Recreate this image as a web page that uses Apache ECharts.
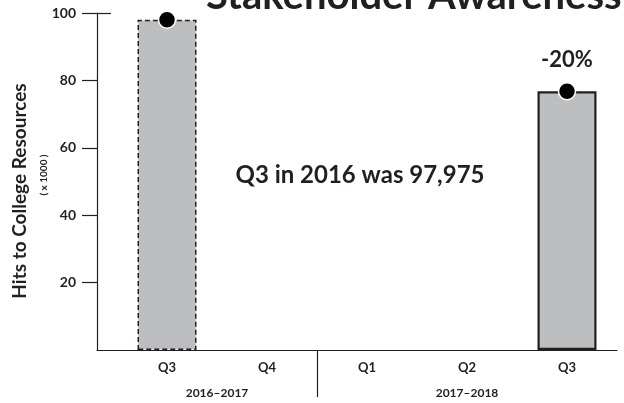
<!DOCTYPE html>
<html><head><meta charset="utf-8">
<script src="https://cdn.jsdelivr.net/npm/echarts@6/dist/echarts.min.js"></script>
<style>html,body{margin:0;padding:0;background:#fff}#c{width:624px;height:403px}</style>
</head><body><div id="c"></div>
<script>
// ---- data ----
const quarters = ['Q3', 'Q4', 'Q1', 'Q2', 'Q3'];
const hits = [97.975, null, null, null, 76.8];          // thousands of hits
const yTicks = [20, 40, 60, 80, 100];
const yearNames = ['2016–2017', '2017–2018'];
const yearQuarterCounts = [2, 3];
const changeText = '-20%';
const noteText = 'Q3 in 2016 was 97,975';
const titleText = 'Stakeholder Awareness';
const yName = 'Hits to College Resources';
const yUnit = '( x 1000 )';

// ---- derived ----
const INK = '#231f20';
const FONT = 'Lato';
const yearMid = {};
let start = 0;
yearQuarterCounts.forEach((n, i) => { yearMid[(start + (start + n)) / 2] = yearNames[i]; start += n; });
const sepValues = [yearQuarterCounts[0]];
const yMax = yTicks[yTicks.length - 1];

const chart = echarts.init(document.getElementById('c'), null, {renderer: 'canvas'});
const barData = hits.map((v, i) => v == null ? '-' : {
  value: v,
  itemStyle: i === 0
    ? {color: '#bcbec0', borderColor: INK, borderWidth: 1.5, borderType: [5, 3]}
    : {color: '#bcbec0', borderColor: INK, borderWidth: 2.2}
});
const dotData = hits.map((v, i) => v == null ? '-' : {
  value: v,
  label: i === hits.length - 1 ? {show: true, formatter: changeText} : {show: false}
});

chart.setOption({
  animation: false,
  textStyle: {fontFamily: FONT},
  title: {
    text: titleText, left: 206, top: -24, padding: 0,
    textStyle: {fontFamily: FONT, fontWeight: 'bold', fontSize: 40, color: INK, lineHeight: 40}
  },
  grid: [
    {left: 97, right: 7, top: 13, bottom: 53},
    {left: 117, right: 7, top: 13, bottom: 53}
  ],
  xAxis: [
    { // axis baseline spanning from the y axis
      gridIndex: 0, type: 'value', min: 0, max: 1,
      axisLine: {show: true, lineStyle: {color: INK, width: 1.2}},
      axisTick: {show: false}, axisLabel: {show: false}, splitLine: {show: false}
    },
    { // quarters
      gridIndex: 1, type: 'category', data: quarters, boundaryGap: true,
      axisLine: {show: false},
      axisTick: {show: false},
      axisLabel: {
        interval: 0, margin: 11, color: INK, fontFamily: FONT, fontWeight: 'bold', fontSize: 13
      }
    },
    { // fiscal years + separator
      gridIndex: 1, type: 'value', position: 'bottom', offset: 0,
      min: 0, max: quarters.length, interval: 0.5,
      axisLine: {show: false}, splitLine: {show: false},
      axisTick: {show: true, customValues: sepValues, length: 47, lineStyle: {color: INK, width: 1.2}},
      axisLabel: {
        margin: 37, color: INK, fontFamily: FONT, fontWeight: 'bold', fontSize: 12,
        showMinLabel: true, showMaxLabel: true,
        formatter: (v) => yearMid[v] || ''
      }
    }
  ],
  yAxis: [
    {
      gridIndex: 0, type: 'value', min: 0, max: yMax,
      axisLine: {show: true, lineStyle: {color: INK, width: 1.2}},
      axisTick: {show: true, length: 15, inside: false, customValues: yTicks, lineStyle: {color: INK, width: 1.2}},
      axisLabel: {
        customValues: yTicks, margin: 21, color: INK, fontFamily: FONT, fontWeight: 'bold', fontSize: 14
      },
      splitLine: {show: false}
    },
    {
      gridIndex: 1, type: 'value', min: 0, max: yMax,
      axisLine: {show: false}, axisTick: {show: false}, axisLabel: {show: false}, splitLine: {show: false}
    },
    { // inward cap tick at the top of the y axis
      gridIndex: 0, type: 'value', min: 0, max: yMax, position: 'left',
      axisLine: {show: false}, axisLabel: {show: false}, splitLine: {show: false},
      axisTick: {show: true, inside: true, length: 14, customValues: [yMax], lineStyle: {color: INK, width: 1.2}}
    }
  ],
  series: [
    {
      type: 'bar', xAxisIndex: 1, yAxisIndex: 1, barWidth: 59, data: barData, z: 2
    },
    {
      type: 'scatter', xAxisIndex: 1, yAxisIndex: 1, data: dotData,
      symbol: 'circle', symbolSize: 17, z: 5,
      itemStyle: {color: '#000', borderColor: '#fff', borderWidth: 1.5, opacity: 1},
      label: {position: 'top', distance: 11, color: INK, fontFamily: FONT, fontWeight: 'bold', fontSize: 22}
    }
  ],
  graphic: [
    {
      type: 'text', x: 20, y: 191, rotation: Math.PI / 2,
      style: {text: yName, fill: INK, font: 'bold 19px Lato', align: 'center', verticalAlign: 'middle'}
    },
    {
      type: 'text', x: 44, y: 175, rotation: Math.PI / 2,
      style: {text: yUnit, fill: INK, font: 'bold 10px Lato', align: 'center', verticalAlign: 'middle'}
    },
    {
      type: 'text', x: 360, y: 175,
      style: {text: noteText, fill: INK, font: 'bold 24px Lato', align: 'center', verticalAlign: 'middle'}
    }
  ]
});
</script>
</body></html>
